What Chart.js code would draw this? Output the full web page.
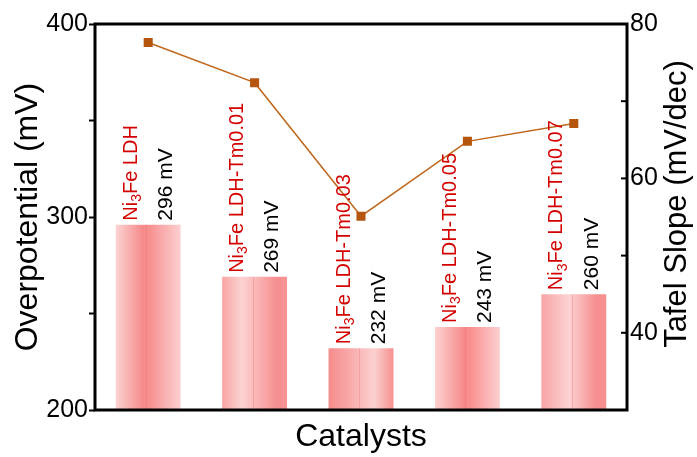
<!DOCTYPE html>
<html lang="en">
<head>
  <meta charset="UTF-8" />
  <title>Overpotential and Tafel slope</title>
  <script src="https://cdn.jsdelivr.net/npm/chart.js"></script>
  <style>
    html, body { margin: 0; padding: 0; background: #ffffff; }
    #wrap { width: 697px; height: 457px; }
  </style>
</head>
<body>
  <div id="wrap"><canvas id="grafica"></canvas></div>

  <script>
    // data
    const categories = ['Ni3Fe LDH', 'Ni3Fe LDH-Tm0.01', 'Ni3Fe LDH-Tm0.03', 'Ni3Fe LDH-Tm0.05', 'Ni3Fe LDH-Tm0.07'];
    const overpotential = [296, 269, 232, 243, 260];
    const tafelSlope = [77.6, 72.4, 55.1, 64.8, 67.1];
    const leftTicks = [200, 300, 400];
    const rightTicks = [40, 60, 80];

    const FONT = "'Liberation Sans', Arial, sans-serif";

    // horizontal shading of each bar (stop position, colour)
    const barShades = [
      [[0, '#fcd2d2'], [0.42, '#f68a8a'], [0.55, '#f89494'], [1, '#fcd0d0']],
      [[0, '#f8a4a4'], [0.3, '#fcd2d2'], [0.85, '#f68e8e'], [1, '#f79696']],
      [[0, '#f68c8c'], [0.3, '#f8a6a6'], [0.7, '#fcd0d0'], [1, '#f69090']],
      [[0, '#fcd2d2'], [0.45, '#f68a8a'], [0.55, '#f89090'], [1, '#fcd0d0']],
      [[0, '#f8a4a4'], [0.42, '#fcd2d2'], [0.85, '#f68e8e'], [1, '#f69090']]
    ];

    // gives each bar its gradient once the bars have their positions
    const barGradient = {
      id: 'barGradient',
      beforeDatasetsDraw(chart) {
        const ctx = chart.ctx;
        chart.getDatasetMeta(1).data.forEach((bar, i) => {
          const x0 = bar.x - bar.width / 2;
          const g = ctx.createLinearGradient(x0, 0, x0 + bar.width, 0);
          barShades[i % barShades.length].forEach(s => g.addColorStop(s[0], s[1]));
          bar.options.backgroundColor = g;
        });
      }
    };

    // texts above the bars, rotated
    function drawName(ctx, name, x, y) {
      const m = name.match(/^Ni(\d)(.*)$/);
      ctx.fillStyle = '#d40000';
      ctx.font = '20px ' + FONT;
      if (!m) { ctx.fillText(name, x, y); return; }
      ctx.fillText('Ni', x, y);
      let w = ctx.measureText('Ni').width;
      ctx.font = '14px ' + FONT;
      ctx.fillText(m[1], x + w, y + 6);
      w += ctx.measureText(m[1]).width;
      ctx.font = '20px ' + FONT;
      ctx.fillText(m[2], x + w, y);
    }

    const barLabels = {
      id: 'barLabels',
      afterDatasetsDraw(chart) {
        const ctx = chart.ctx;
        const bottom = chart.chartArea.bottom;
        chart.getDatasetMeta(1).data.forEach((bar, i) => {
          // faint line down the middle of the bars
          ctx.save();
          ctx.strokeStyle = 'rgba(240,100,100,0.3)';
          ctx.lineWidth = 1;
          ctx.beginPath();
          ctx.moveTo(Math.round(bar.x) - 1.5, bar.y);
          ctx.lineTo(Math.round(bar.x) - 1.5, bottom);
          ctx.stroke();
          ctx.restore();

          ctx.save();
          ctx.textAlign = 'left';
          ctx.textBaseline = 'middle';
          ctx.save();
          ctx.translate(bar.x - 17, bar.y - 4);
          ctx.rotate(-Math.PI / 2);
          drawName(ctx, categories[i], 0, 0);
          ctx.restore();
          ctx.translate(bar.x + 18, bar.y - 4);
          ctx.rotate(-Math.PI / 2);
          ctx.fillStyle = '#000';
          ctx.font = '21px ' + FONT;
          ctx.fillText(overpotential[i] + ' mV', 0, 0);
          ctx.restore();
        });
      }
    };

    // frame, inward ticks on the right axis, right title
    const frame = {
      id: 'frame',
      afterDraw(chart) {
        const { ctx, chartArea: a } = chart;
        const y1 = chart.scales.y1;
        ctx.save();
        ctx.strokeStyle = '#000';
        ctx.lineWidth = 3;
        ctx.strokeRect(a.left, a.top, a.right - a.left, a.bottom - a.top);
        ctx.lineWidth = 2;
        y1.ticks.forEach(t => {
          const yy = y1.getPixelForValue(t.value);
          ctx.beginPath();
          ctx.moveTo(a.right, yy);
          ctx.lineTo(a.right - 6, yy);
          ctx.stroke();
        });
        ctx.translate(677, 204);
        ctx.rotate(-Math.PI / 2);
        ctx.textAlign = 'center';
        ctx.textBaseline = 'middle';
        ctx.fillStyle = '#000';
        ctx.font = '31px ' + FONT;
        ctx.fillText('Tafel Slope (mV/dec)', 0, 0);
        ctx.restore();
      }
    };

    new Chart(document.getElementById('grafica'), {
      type: 'bar',
      data: {
        labels: categories,
        datasets: [
          {
            type: 'line',
            label: 'Tafel Slope',
            data: tafelSlope,
            yAxisID: 'y1',
            borderColor: '#c0661c',
            borderWidth: 1.5,
            pointStyle: 'rect',
            pointRadius: 6.4,
            pointBackgroundColor: '#b5550e',
            pointBorderColor: '#b5550e',
            pointBorderWidth: 0,
            tension: 0,
            order: 0
          },
          {
            label: 'Overpotential',
            data: overpotential,
            yAxisID: 'y',
            // scriptable so every bar keeps its own options object
            backgroundColor: () => '#f8a0a0',
            borderWidth: 0,
            barPercentage: 0.61,
            categoryPercentage: 1,
            order: 1
          }
        ]
      },
      options: {
        responsive: true,
        maintainAspectRatio: false,
        animation: false,
        devicePixelRatio: 1,
        layout: { padding: { top: 24, left: 0, right: 0, bottom: 0 } },
        plugins: { legend: { display: false }, tooltip: { enabled: false } },
        scales: {
          x: {
            grid: { display: false },
            border: { display: false },
            ticks: { display: false },
            title: { display: true, text: 'Catalysts', color: '#000', font: { family: FONT, size: 32, lineHeight: 1 }, padding: { top: 0, bottom: 4 } },
            afterFit(s) { s.height = 47; }
          },
          y: {
            position: 'left',
            min: 200,
            max: 400,
            grid: { drawOnChartArea: false, tickLength: 6, tickWidth: 2, tickColor: '#000' },
            border: { display: false },
            ticks: {
              stepSize: 50,
              padding: 1,
              color: '#000',
              font: { family: FONT, size: 25 },
              callback: v => leftTicks.includes(v) ? v : ''
            },
            title: { display: true, text: 'Overpotential (mV)', color: '#000', font: { family: FONT, size: 32, lineHeight: 1 }, padding: { top: 12, bottom: 0 } },
            afterFit(s) { s.width = 95; }
          },
          y1: {
            position: 'right',
            min: 30,
            max: 80,
            grid: { drawOnChartArea: false, drawTicks: false },
            border: { display: false },
            ticks: {
              stepSize: 10,
              padding: 3,
              color: '#000',
              font: { family: FONT, size: 25 },
              callback: v => rightTicks.includes(v) ? v : ''
            },
            afterFit(s) { s.width = 70; }
          }
        }
      },
      plugins: [barGradient, barLabels, frame]
    });
  </script>
</body>
</html>
